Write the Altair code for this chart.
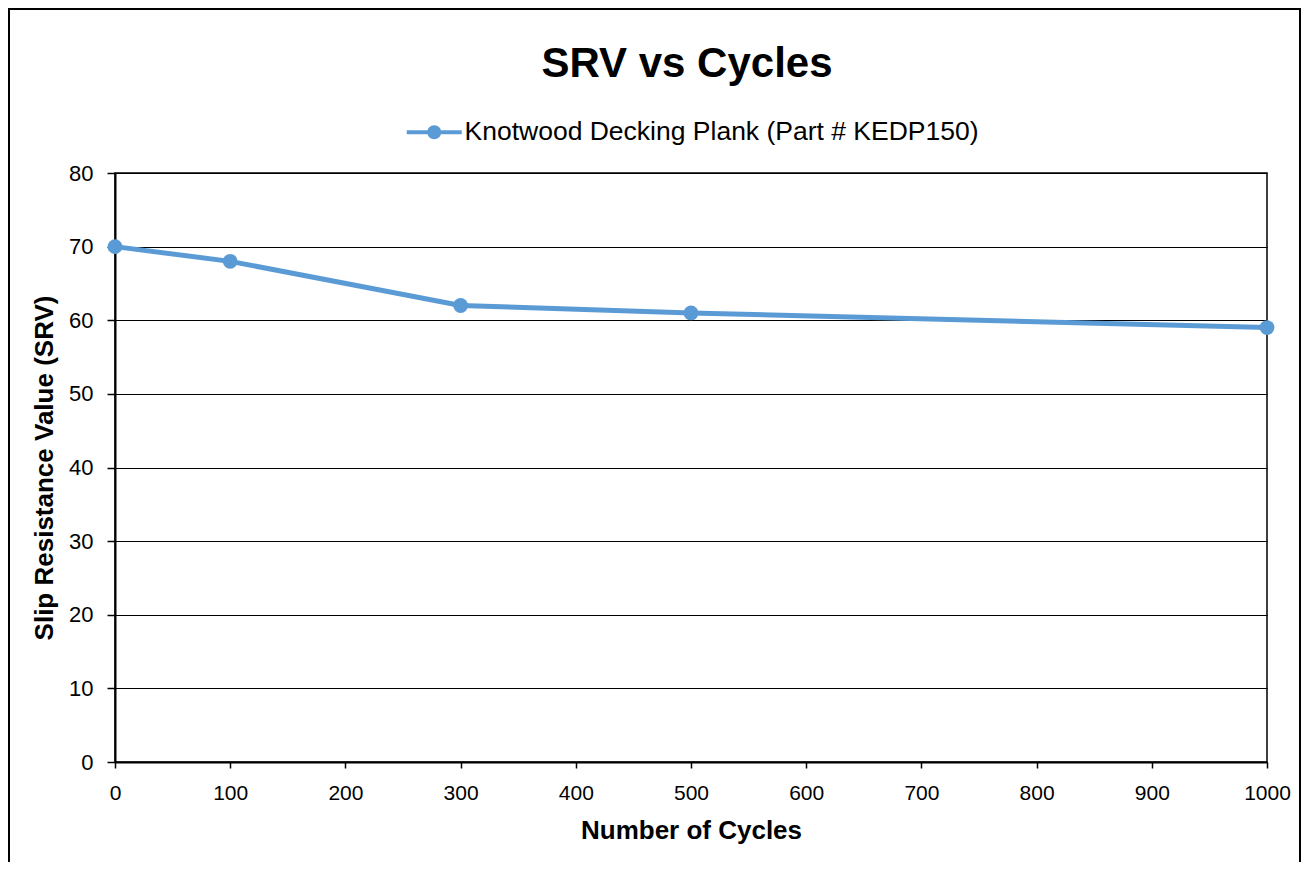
import altair as alt
import pandas as pd

cycles = [0, 100, 300, 500, 1000]
srv = [70, 68, 62, 61, 59]
series = "Knotwood Decking Plank (Part # KEDP150)"
x_ticks = [0, 100, 200, 300, 400, 500, 600, 700, 800, 900, 1000]
y_ticks = [0, 10, 20, 30, 40, 50, 60, 70, 80]

df = pd.DataFrame({"Cycles": cycles, "SRV": srv, "Series": [series] * len(cycles)})

BLUE = "#5B9BD5"
FONT = "Liberation Sans"

x_enc = alt.X("Cycles:Q", scale=alt.Scale(domain=[0, 1000], nice=False),
              axis=alt.Axis(title="Number of Cycles", values=x_ticks, grid=False, format="d",
                            labelFlush=False, tickSize=6, labelPadding=14, labelFontSize=21,
                            titleFontSize=26, titlePadding=14))
y_enc = alt.Y("SRV:Q", scale=alt.Scale(domain=[0, 80], nice=False),
              axis=alt.Axis(title="Slip Resistance Value (SRV)", values=y_ticks, grid=True,
                            labelFlush=False, tickSize=8, labelPadding=14, labelFontSize=22,
                            titleFontSize=26, titlePadding=11))

line = alt.Chart(df).mark_line(color=BLUE, strokeWidth=5).encode(x=x_enc, y=y_enc)

sym = ("M-2.75,-0.2H-0.69V0.2H-2.75Z M0.69,-0.2H2.75V0.2H0.69Z "
       "M0.7,0A0.7,0.7,0,1,1,-0.7,0A0.7,0.7,0,1,1,0.7,0Z")

points = alt.Chart(df).mark_point(filled=True, size=220, opacity=1, shape="circle").encode(
    x=x_enc, y=y_enc,
    color=alt.Color("Series:N", scale=alt.Scale(range=[BLUE]),
                    legend=alt.Legend(title=None, orient="none", legendX=306, legendY=-54,
                                      symbolType=sym, symbolSize=400, symbolStrokeWidth=0,
                                      labelOffset=17, labelFontSize=26.5, labelFont=FONT,
                                      labelColor="black", labelLimit=1000)),
)

frame = alt.Chart(pd.DataFrame({"a": [0]})).mark_rect(
    fill=None, stroke="black", strokeWidth=2
).encode(x=alt.value(-106), x2=alt.value(1185), y=alt.value(-164), y2=alt.value(800))

chart = alt.layer(frame, line, points).properties(
    width=1152, height=589,
    background="white",
    title=alt.TitleParams("SRV vs Cycles", fontSize=42, font=FONT, fontWeight="bold",
                          anchor="middle", offset=-78, dx=-4, color="black"),
    autosize=alt.AutoSizeParams(type="none"),
    padding={"left": 107, "top": 165, "right": 34, "bottom": 100},
).configure_view(stroke="black", strokeWidth=1.5).configure_axis(
    domainColor="black", domainWidth=2, tickColor="black", tickWidth=1.5,
    gridColor="black", gridWidth=1, gridOpacity=1, labelColor="black", titleColor="black",
    labelFont=FONT, titleFont=FONT, titleFontWeight="bold"
)

chart.save("out.html", embed_options={"renderer": "svg", "actions": False})
